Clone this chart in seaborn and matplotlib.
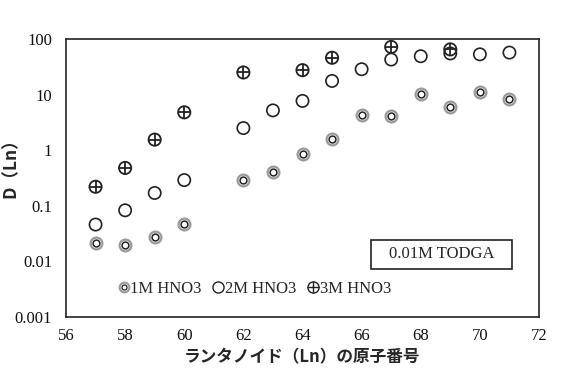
import matplotlib
matplotlib.use("Agg")
import matplotlib.pyplot as plt
import seaborn as sns
import pandas as pd
from matplotlib.lines import Line2D
from matplotlib.legend_handler import HandlerTuple
from matplotlib.patches import Rectangle
from matplotlib.ticker import FixedLocator, FixedFormatter, NullLocator

# ---- data ----
z_1m = [57, 58, 59, 60, 62, 63, 64, 65, 66, 67, 68, 69, 70, 71]
d_1m = [0.021, 0.020, 0.028, 0.047, 0.29, 0.41, 0.87, 1.58, 4.3, 4.1, 10.2, 5.9, 11.0, 8.5]
z_2m = [57, 58, 59, 60, 62, 63, 64, 65, 66, 67, 68, 69, 70, 71]
d_2m = [0.046, 0.083, 0.17, 0.29, 2.5, 5.2, 7.7, 17.6, 28.6, 42.7, 49, 55, 53, 57]
z_3m = [57, 58, 59, 60, 62, 64, 65, 67, 69]
d_3m = [0.22, 0.48, 1.55, 4.8, 25, 27.5, 46, 72, 65]

series_labels = ["1M HNO3", "2M HNO3", "3M HNO3"]
box_label = "0.01M TODGA"
x_label = "ランタノイド（Ln）の原子番号"
y_label = "D（Ln）"
y_ticks = [0.001, 0.01, 0.1, 1, 10, 100]
y_tick_labels = ["0.001", "0.01", "0.1", "1", "10", "100"]
x_ticks = [56, 58, 60, 62, 64, 66, 68, 70, 72]

df1 = pd.DataFrame({"z": z_1m, "d": d_1m})
df2 = pd.DataFrame({"z": z_2m, "d": d_2m})
df3 = pd.DataFrame({"z": z_3m, "d": d_3m})

sns.set_theme(style="white")
serif = ["Liberation Serif", "DejaVu Serif"]
cjk = ["Noto Sans CJK JP", "DejaVu Sans"]

fig = plt.figure(figsize=(5.74, 3.71), dpi=100)
ax = fig.add_axes([66 / 574, 1 - 317 / 371, (539 - 66) / 574, (317 - 39) / 371])

MS = 78
dark = "#222222"
gray = "#9a9a9a"

# 1M: gray outer ring + small black inner ring
sns.scatterplot(data=df1, x="z", y="d", ax=ax, marker="o", s=72,
                facecolor="white", edgecolor=gray, linewidth=1.6, zorder=3, legend=False)
sns.scatterplot(data=df1, x="z", y="d", ax=ax, marker="o", s=24,
                facecolor="white", edgecolor=dark, linewidth=1.1, zorder=4, legend=False)
# 2M: open circle
sns.scatterplot(data=df2, x="z", y="d", ax=ax, marker="o", s=MS,
                facecolor="none", edgecolor=dark, linewidth=1.2, zorder=3, legend=False)
# 3M: circle with plus
sns.scatterplot(data=df3, x="z", y="d", ax=ax, marker="o", s=MS,
                facecolor="none", edgecolor=dark, linewidth=1.3, zorder=5, legend=False)
sns.scatterplot(data=df3, x="z", y="d", ax=ax, marker="+", s=MS,
                color=dark, linewidth=1.3, zorder=5, legend=False)

ax.set_yscale("log")
ax.set_xlim(56, 72)
ax.set_ylim(0.001, 100)
ax.yaxis.set_major_locator(FixedLocator(y_ticks))
ax.yaxis.set_major_formatter(FixedFormatter(y_tick_labels))
ax.yaxis.set_minor_locator(NullLocator())
ax.xaxis.set_major_locator(FixedLocator(x_ticks))
ax.xaxis.set_minor_locator(FixedLocator([57, 59, 61, 63, 65, 67, 69, 71]))
ax.tick_params(axis="both", which="both", direction="in", length=4, width=1.0,
               color=dark, labelsize=12, labelcolor="#111111")
ax.tick_params(axis="x", pad=8)
ax.tick_params(axis="y", pad=10)
for lab in ax.get_xticklabels() + ax.get_yticklabels():
    lab.set_family(serif)

for sp in ax.spines.values():
    sp.set_visible(True)
    sp.set_color(dark)
    sp.set_linewidth(1.2)

ax.set_xlabel(x_label, family=cjk, fontsize=12, fontweight="bold", labelpad=3)
ax.set_ylabel(y_label, family=cjk, fontsize=12.5, fontweight="bold")
ax.yaxis.set_label_coords(-0.098, 0.55)

# legend
h1 = (Line2D([], [], ls="none", marker="o", ms=7.0, mfc="white", mec=gray, mew=1.5),
      Line2D([], [], ls="none", marker="o", ms=3.6, mfc="white", mec=dark, mew=0.9))
h2 = Line2D([], [], ls="none", marker="o", ms=8, mfc="none", mec=dark, mew=1.0)
h3 = (Line2D([], [], ls="none", marker="o", ms=8, mfc="none", mec=dark, mew=1.0),
      Line2D([], [], ls="none", marker="+", ms=8, mec=dark, mew=1.0))
ax.legend([h1, h2, h3], series_labels, handler_map={tuple: HandlerTuple(ndivide=1)},
          loc="center left", bbox_to_anchor=(0.078, 0.1), ncol=3, frameon=False,
          handlelength=0.7, handletextpad=0.05, columnspacing=0.65,
          prop={"family": serif, "size": 12})

# text box
ax.add_patch(Rectangle((0.645, 0.173), 0.298, 0.104, transform=ax.transAxes,
                       facecolor="white", edgecolor=dark, linewidth=1.2, zorder=6))
ax.text(0.794, 0.225, box_label, transform=ax.transAxes, ha="center", va="center",
        family=serif, fontsize=12, zorder=7)

fig.savefig("out.png", dpi=100)
